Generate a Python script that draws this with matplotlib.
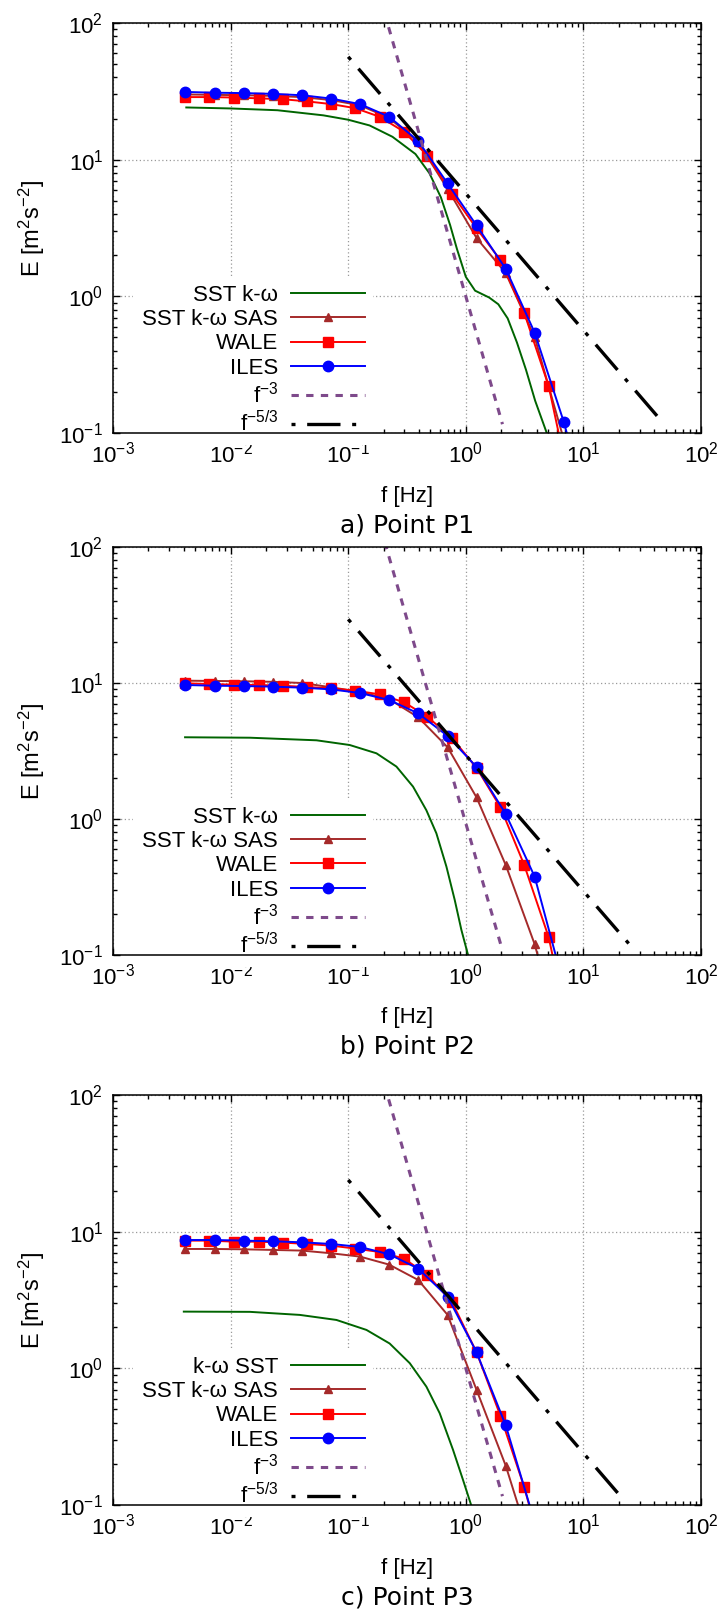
import matplotlib
matplotlib.use("Agg")
import matplotlib.pyplot as plt
from matplotlib.ticker import LogLocator, NullFormatter

plt.rcParams["font.family"] = ["Liberation Sans", "DejaVu Sans"]
plt.rcParams["mathtext.fontset"] = "custom"
plt.rcParams["mathtext.rm"] = "Liberation Sans"
plt.rcParams["mathtext.it"] = "Liberation Sans:italic"
plt.rcParams["mathtext.bf"] = "Liberation Sans:bold"
plt.rcParams["mathtext.default"] = "regular"

# ---------------------------------------------------------------- data
# frequencies of the sampled spectra [Hz]
f_iles = [0.0041, 0.0073, 0.0129, 0.0230, 0.0405, 0.0715, 0.126, 0.223,
          0.394, 0.700, 1.235, 2.185, 3.85, 6.80, 12.0]
f_sas = f_iles
f_wale = [0.0041, 0.0066, 0.0107, 0.0173, 0.0277, 0.0447, 0.0720, 0.115,
          0.185, 0.299, 0.472, 0.765, 1.235, 1.97, 3.14, 5.07, 8.1]

# point P1
sst_f_p1 = [0.0042, 0.010, 0.025, 0.0615, 0.10, 0.152, 0.238, 0.373, 0.49,
            0.614, 0.735, 0.841, 1.0, 1.2, 1.58, 1.89, 2.27, 2.72, 3.25,
            3.89, 4.88, 5.6]
sst_e_p1 = [24.1, 23.7, 23.0, 21.1, 19.6, 17.8, 14.7, 11.0, 7.97, 5.3, 3.33,
            2.22, 1.39, 1.10, 0.98, 0.875, 0.69, 0.46, 0.29, 0.172, 0.10,
            0.077]
sas_p1 = [30.0, 29.8, 29.6, 29.3, 28.7, 27.3, 25.0, 20.2, 13.4, 6.1, 2.67,
          1.48, 0.503, 0.09, 0.02]
wale_p1 = [28.7, 28.7, 28.5, 28.1, 27.7, 26.7, 25.5, 23.8, 20.6, 16.0, 10.7,
           5.62, 3.14, 1.84, 0.757, 0.220, 0.033]
iles_p1 = [31.3, 30.9, 30.7, 30.3, 29.6, 28.0, 25.5, 20.6, 13.7, 6.70, 3.30,
           1.59, 0.543, 0.121, 0.02]

# point P2
sst_f_p2 = [0.0041, 0.0146, 0.0538, 0.103, 0.174, 0.257, 0.356, 0.462,
            0.562, 0.684, 0.805, 0.917, 1.045, 1.15]
sst_e_p2 = [3.99, 3.96, 3.79, 3.50, 3.04, 2.43, 1.73, 1.16, 0.785, 0.447,
            0.254, 0.153, 0.10, 0.07]
sas_p2 = [10.4, 10.35, 10.3, 10.2, 10.0, 9.3, 8.6, 7.6, 5.6, 3.37, 1.44,
          0.459, 0.120, 0.02, 0.005]
wale_p2 = [9.95, 9.83, 9.72, 9.67, 9.55, 9.34, 9.14, 8.78, 8.26, 7.21, 5.65,
           3.92, 2.38, 1.22, 0.459, 0.135, 0.02]
iles_p2 = [9.67, 9.55, 9.50, 9.40, 9.24, 8.98, 8.44, 7.50, 5.98, 4.08, 2.41,
           1.09, 0.377, 0.06, 0.01]

# point P3
sst_f_p3 = [0.0040, 0.0146, 0.0388, 0.0794, 0.143, 0.225, 0.334, 0.462,
            0.600, 0.779, 0.946, 1.11, 1.22]
sst_e_p3 = [2.60, 2.59, 2.46, 2.26, 1.91, 1.52, 1.09, 0.735, 0.469, 0.253,
            0.153, 0.10, 0.08]
sas_p3 = [7.47, 7.47, 7.43, 7.35, 7.27, 6.95, 6.57, 5.74, 4.43, 2.46, 0.695,
          0.194, 0.041, 0.01, 0.002]
wale_p3 = [8.6, 8.6, 8.45, 8.45, 8.32, 8.13, 7.9, 7.52, 7.10, 6.35, 4.82,
           3.04, 1.31, 0.449, 0.135, 0.03, 0.01]
iles_p3 = [8.69, 8.69, 8.60, 8.50, 8.36, 8.13, 7.73, 6.83, 5.37, 3.35, 1.31,
           0.383, 0.075, 0.01, 0.002]

# power-law guide lines, given by their end points (f, E)
slope3_f = [[0.1, 2.05], [0.1, 2.05], [0.1, 2.05]]
slope3_e = [[1000.0, 0.116], [930.0, 0.108], [1000.0, 0.116]]
slope53_f = [[0.1, 47.0], [0.1, 25.0], [0.1, 22.0]]
slope53_e = [[56.6, 0.120], [29.4, 0.118], [23.9, 0.109]]

labels_p12 = ["SST k-\u03c9", "SST k-\u03c9 SAS", "WALE", "ILES",
              "f$^{-3}$", "f$^{-5/3}$"]
labels_p3 = ["k-\u03c9 SST", "SST k-\u03c9 SAS", "WALE", "ILES",
             "f$^{-3}$", "f$^{-5/3}$"]
titles = ["a) Point P1", "b) Point P2", "c) Point P3"]

sst_f = [sst_f_p1, sst_f_p2, sst_f_p3]
sst_e = [sst_e_p1, sst_e_p2, sst_e_p3]
sas_e = [sas_p1, sas_p2, sas_p3]
wale_e = [wale_p1, wale_p2, wale_p3]
iles_e = [iles_p1, iles_p2, iles_p3]
legend_labels = [labels_p12, labels_p12, labels_p3]

# ---------------------------------------------------------------- layout
W, H = 725, 1619
L, R = 113, 701
boxes = [(23, 433), (547, 955), (1095, 1505)]

C_SST = "#006400"
C_SAS = "#a52a2a"
C_WALE = "#ff0000"
C_ILES = "#0000ff"
C_F3 = "#7e4a8b"
C_F53 = "#000000"

fig = plt.figure(figsize=(W / 100, H / 100), dpi=100)

for i, (top, bot) in enumerate(boxes):
    ax = fig.add_axes([L / W, 1 - bot / H, (R - L) / W, (bot - top) / H])
    ax.set_xscale("log")
    ax.set_yscale("log")
    ax.set_xlim(1e-3, 1e2)
    ax.set_ylim(1e-1, 1e2)

    lbl = legend_labels[i]
    ax.plot(sst_f[i], sst_e[i], color=C_SST, lw=1.4, label=lbl[0])
    ax.plot(f_sas, sas_e[i], color=C_SAS, lw=1.4, marker="^", ms=6,
            label=lbl[1])
    ax.plot(f_wale, wale_e[i], color=C_WALE, lw=1.4, marker="s", ms=7,
            label=lbl[2])
    ax.plot(f_iles, iles_e[i], color=C_ILES, lw=1.4, marker="o", ms=7.5,
            label=lbl[3])
    ax.plot(slope3_f[i], slope3_e[i], color=C_F3, lw=2.2,
            linestyle=(0, (2.4, 2.4)), label=lbl[4])
    # dash-dot pattern that opens with the short dash
    ax.plot(slope53_f[i], slope53_e[i], color=C_F53, lw=2.4,
            linestyle=(13.5, (10, 3.5, 1.2, 3.5)), label=lbl[5])

    ax.grid(True, which="major", color="#9a9a9a", linestyle=(0, (1, 2)),
            lw=0.9)
    ax.set_axisbelow(True)

    ax.xaxis.set_major_locator(LogLocator(base=10, numticks=10))
    ax.yaxis.set_major_locator(LogLocator(base=10, numticks=10))
    ax.xaxis.set_minor_locator(LogLocator(base=10, subs=range(2, 10),
                                          numticks=20))
    ax.yaxis.set_minor_locator(LogLocator(base=10, subs=range(2, 10),
                                          numticks=20))
    ax.xaxis.set_minor_formatter(NullFormatter())
    ax.yaxis.set_minor_formatter(NullFormatter())
    ax.tick_params(which="both", direction="in", top=True, right=True,
                   width=1.0)
    ax.tick_params(which="major", length=5)
    ax.tick_params(which="minor", length=2.6)
    ax.tick_params(axis="x", which="major", labelsize=16, pad=6)
    ax.tick_params(axis="y", which="major", labelsize=16, pad=7)
    for s in ax.spines.values():
        s.set_linewidth(1.1)

    ax.set_xlabel("f [Hz]", fontsize=16)
    ax.xaxis.set_label_coords(0.5, -0.154)
    ax.xaxis.label.set_va("center")
    ax.set_ylabel("E [m$^{2}$s$^{-2}$]", fontsize=17)
    ax.yaxis.set_label_coords(-0.112, 0.5)

    ax.text(0.5, -0.225, titles[i], transform=ax.transAxes, ha="center",
            va="center", fontsize=18, family="DejaVu Sans")

    leg = ax.legend(loc="lower right", bbox_to_anchor=(0.443, -0.03),
                    markerfirst=False, numpoints=1, fontsize=16,
                    handlelength=3.3, handletextpad=0.6, labelspacing=0.15,
                    borderpad=0.4, borderaxespad=0.0, frameon=True,
                    fancybox=False, framealpha=1.0, facecolor="white",
                    edgecolor="none")
    leg.set_zorder(2.4)

fig.savefig("out.png", dpi=100)
